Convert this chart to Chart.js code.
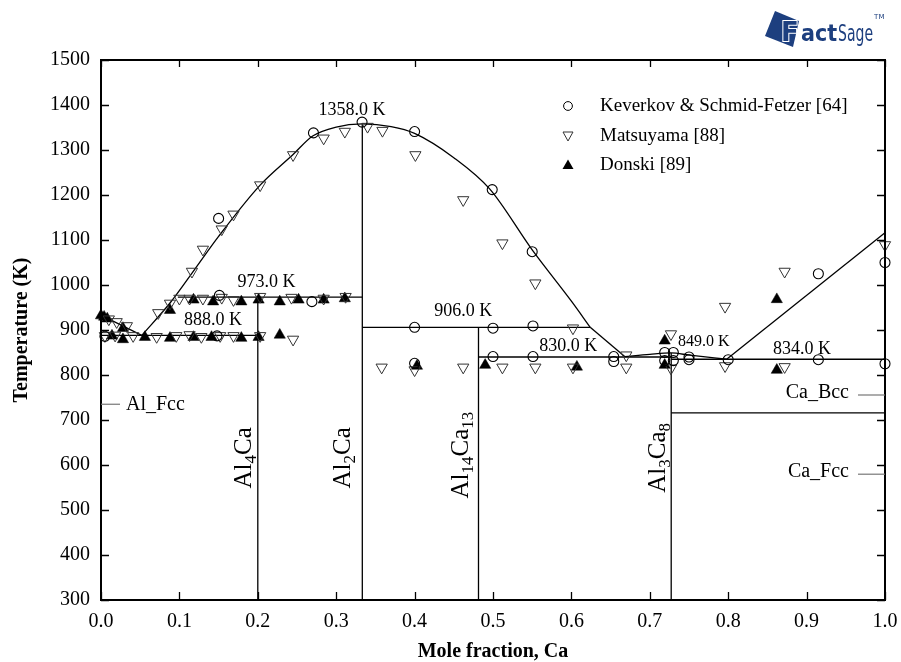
<!DOCTYPE html>
<html>
<head>
<meta charset="utf-8">
<title>Al-Ca phase diagram</title>
<script src="https://cdn.jsdelivr.net/npm/chart.js@4.4.1/dist/chart.umd.min.js"></script>
<style>
    html, body { margin: 0; padding: 0; background: #fff; }
    canvas { display: block; }
</style>
</head>
<body>
<canvas id="phaseChart" width="901" height="662"></canvas>
<script>
// ================= DATA =================
const xTickValues = [0, 0.1, 0.2, 0.3, 0.4, 0.5, 0.6, 0.7, 0.8, 0.9, 1.0];
const xTickLabels = ['0.0', '0.1', '0.2', '0.3', '0.4', '0.5', '0.6', '0.7', '0.8', '0.9', '1.0'];
const yTickValues = [300, 400, 500, 600, 700, 800, 900, 1000, 1100, 1200, 1300, 1400, 1500];
const yTickLabels = ['300', '400', '500', '600', '700', '800', '900', '1000', '1100', '1200', '1300', '1400', '1500'];

// Keverkov & Schmid-Fetzer [64]
const kevX = [0.005, 0.148, 0.150, 0.151, 0.269, 0.271, 0.333, 0.400, 0.499, 0.550,
              0.400, 0.500, 0.551, 0.400, 0.500, 0.551, 0.654, 0.654, 0.719, 0.730,
              0.719, 0.730, 0.750, 0.750, 0.800, 0.915, 0.915, 1.000, 1.000];
const kevT = [886, 887, 1148, 977, 963, 1338, 1362, 1341, 1212, 1074,
              906, 904, 909, 826, 841, 841, 841, 830, 850, 850,
              832, 832, 840, 834, 834, 1025, 834, 1050, 825];

// Matsuyama [88]
const matX = [0.088, 0.116, 0.130, 0.154, 0.169, 0.203, 0.245, 0.284, 0.311, 0.340,
              0.359, 0.401, 0.462, 0.512, 0.554, 0.602,
              0.358, 0.400, 0.462, 0.512, 0.554, 0.602, 0.670,
              0.670, 0.727, 0.727, 0.796, 0.796, 0.872, 0.872, 1.000,
              0.073, 0.100, 0.113, 0.130, 0.154, 0.169, 0.203, 0.243, 0.284, 0.312,
              0.005, 0.018, 0.020, 0.033, 0.041, 0.071, 0.096, 0.113, 0.128, 0.152,
              0.169, 0.203, 0.245, 0.010];
const matT = [959, 1030, 1079, 1124, 1157, 1222, 1289, 1326, 1341, 1352,
              1343, 1289, 1189, 1093, 1004, 904,
              817, 811, 817, 817, 817, 817, 817,
              844, 891, 815, 952, 820, 1030, 818, 1089,
              938, 970, 970, 970, 972, 967, 974, 972, 970, 974,
              887, 888, 918, 909, 887, 885, 887, 889, 885, 887,
              887, 887, 879, 924];

// Donski [89]
const donX = [0.000, 0.004, 0.008, 0.014, 0.028, 0.028, 0.056, 0.088, 0.088, 0.118,
              0.141, 0.179, 0.201, 0.228, 0.118, 0.143, 0.179, 0.201, 0.228, 0.252,
              0.284, 0.311, 0.403, 0.490, 0.607, 0.719, 0.719, 0.862, 0.862];
const donT = [932, 929, 925, 887, 904, 879, 884, 882, 944, 884,
              884, 882, 884, 889, 967, 963, 963, 967, 963, 967,
              967, 970, 820, 822, 818, 876, 822, 968, 811];

// phase boundaries [x, T]
const liqAlSide = [[0, 933], [0.052, 888]];
const liqDome = [[0.052, 888], [0.088, 960], [0.120, 1036], [0.150, 1108], [0.203, 1222],
                 [0.245, 1290], [0.270, 1331], [0.300, 1351], [0.333, 1358], [0.370, 1352],
                 [0.400, 1337], [0.450, 1283], [0.496, 1213], [0.550, 1078], [0.600, 964],
                 [0.624, 906]];
const liqMid = [[0.624, 906], [0.668, 841]];
const liqAl3Ca8 = [[0.668, 841], [0.700, 846], [0.727, 849], [0.751, 844], [0.798, 835]];
const liqCaSide = [[0.798, 835], [1.0, 1116]];
const line888 = [[0, 888], [0.2, 888]];
const line973 = [[0.098, 973], [0.3333, 973]];
const line906 = [[0.3333, 906], [0.624, 906]];
const line830 = [[0.4815, 840], [0.7273, 840]];
const line834 = [[0.7273, 835], [1.0, 835]];
const lineBccFcc = [[0.7273, 716], [1.0, 716]];
const vAl4Ca = [[0.2, 300], [0.2, 973]];
const vAl2Ca = [[0.3333, 300], [0.3333, 1358]];
const vAl14Ca13 = [[0.4815, 300], [0.4815, 906]];
const vAl3Ca8 = [[0.7273, 300], [0.7273, 849]];

// text annotations (data coordinates)
const tempLabels = [
    { text: '1358.0 K', x: 0.320, t: 1389, size: 18 },
    { text: '973.0 K', x: 0.211, t: 1007, size: 18 },
    { text: '888.0 K', x: 0.143, t: 922, size: 18 },
    { text: '906.0 K', x: 0.462, t: 942, size: 18 },
    { text: '830.0 K', x: 0.596, t: 863, size: 18 },
    { text: '849.0 K', x: 0.769, t: 874, size: 16 },
    { text: '834.0 K', x: 0.894, t: 857, size: 18 }
];
const compoundLabels = [
    { parts: [['Al', 0], ['4', 1], ['Ca', 0]], x: 0.181, t: 616 },
    { parts: [['Al', 0], ['2', 1], ['Ca', 0]], x: 0.307, t: 616 },
    { parts: [['Al', 0], ['14', 1], ['Ca', 0], ['13', 1]], x: 0.458, t: 622 },
    { parts: [['Al', 0], ['3', 1], ['Ca', 0], ['8', 1]], x: 0.709, t: 616 }
];
const phaseLabels = [
    { text: 'Al_Fcc', t: 735, side: 'left' },
    { text: 'Ca_Bcc', t: 760, side: 'right' },
    { text: 'Ca_Fcc', t: 584, side: 'right' }
];

const SERIF = '"Liberation Serif", "Times New Roman", serif';

// ================= HELPERS =================
function toPoints(xs, ts) {
    return xs.map((x, i) => ({ x: x, y: ts[i] }));
}

function lineSet(pairs, smooth) {
    return {
        data: pairs.map(p => ({ x: p[0], y: p[1] })),
        showLine: true,
        borderColor: '#000',
        borderWidth: 1.3,
        pointRadius: 0,
        pointHoverRadius: 0,
        fill: false,
        tension: smooth ? 0.4 : 0,
        cubicInterpolationMode: smooth ? 'monotone' : 'default',
        clip: false,
        order: 10
    };
}

// ================= PLUGIN =================
const decorPlugin = {
    id: 'decor',
    afterDraw(chart) {
        const ctx = chart.ctx;
        const area = chart.chartArea;
        const xs = chart.scales.x;
        const ys = chart.scales.y;

        ctx.save();
        ctx.strokeStyle = '#000';

        // inward ticks
        ctx.lineWidth = 1.3;
        yTickValues.forEach(v => {
            const py = Math.round(ys.getPixelForValue(v)) + 0.5;
            ctx.beginPath();
            ctx.moveTo(area.left, py); ctx.lineTo(area.left + 8, py);
            ctx.moveTo(area.right, py); ctx.lineTo(area.right - 8, py);
            ctx.stroke();
        });
        xTickValues.forEach(v => {
            const px = Math.round(xs.getPixelForValue(v)) + 0.5;
            ctx.beginPath();
            ctx.moveTo(px, area.bottom); ctx.lineTo(px, area.bottom - 8);
            ctx.moveTo(px, area.top); ctx.lineTo(px, area.top + 7);
            ctx.stroke();
        });

        // frame
        ctx.lineWidth = 2;
        ctx.strokeRect(area.left, area.top, area.right - area.left, area.bottom - area.top);

        // temperature labels
        ctx.fillStyle = '#000';
        ctx.textAlign = 'center';
        ctx.textBaseline = 'middle';
        tempLabels.forEach(l => {
            ctx.font = l.size + 'px ' + SERIF;
            ctx.fillText(l.text, xs.getPixelForValue(l.x), ys.getPixelForValue(l.t));
        });

        // compound labels, rotated with subscripts
        compoundLabels.forEach(l => {
            const big = '25px ' + SERIF;
            const small = '17px ' + SERIF;
            let w = 0;
            l.parts.forEach(p => { ctx.font = p[1] ? small : big; w += ctx.measureText(p[0]).width; });
            ctx.save();
            ctx.translate(xs.getPixelForValue(l.x), ys.getPixelForValue(l.t));
            ctx.rotate(-Math.PI / 2);
            ctx.textAlign = 'left';
            ctx.textBaseline = 'alphabetic';
            let cx = -w / 2;
            l.parts.forEach(p => {
                ctx.font = p[1] ? small : big;
                ctx.fillText(p[0], cx, p[1] ? 13 : 8);
                cx += ctx.measureText(p[0]).width;
            });
            ctx.restore();
        });

        // phase labels with leader lines
        ctx.font = '20px ' + SERIF;
        ctx.textBaseline = 'middle';
        phaseLabels.forEach(l => {
            const py = ys.getPixelForValue(l.t);
            ctx.strokeStyle = '#777';
            ctx.lineWidth = 1.2;
            ctx.beginPath();
            if (l.side === 'left') {
                ctx.moveTo(area.left, py); ctx.lineTo(area.left + 19, py);
                ctx.stroke();
                ctx.textAlign = 'left';
                ctx.fillText(l.text, area.left + 25, py);
            } else {
                ctx.moveTo(area.right - 27, py + 2); ctx.lineTo(area.right, py + 2);
                ctx.stroke();
                ctx.textAlign = 'right';
                ctx.fillText(l.text, area.right - 36, py);
            }
        });

        // legend
        const legendItems = [
            { text: 'Keverkov & Schmid-Fetzer [64]', style: 'circle', y: 106 },
            { text: 'Matsuyama [88]', style: 'down', y: 136 },
            { text: 'Donski [89]', style: 'up', y: 165 }
        ];
        ctx.font = '19px ' + SERIF;
        ctx.textAlign = 'left';
        legendItems.forEach(it => {
            const mx = 568;
            ctx.lineWidth = 1;
            ctx.strokeStyle = '#000';
            ctx.beginPath();
            if (it.style === 'circle') {
                ctx.arc(mx, it.y, 4.4, 0, Math.PI * 2);
                ctx.stroke();
            } else if (it.style === 'down') {
                ctx.moveTo(mx - 5, it.y - 4); ctx.lineTo(mx + 5, it.y - 4); ctx.lineTo(mx, it.y + 5);
                ctx.closePath();
                ctx.strokeStyle = '#333';
                ctx.stroke();
            } else {
                ctx.moveTo(mx - 5.5, it.y + 4); ctx.lineTo(mx + 5.5, it.y + 4); ctx.lineTo(mx, it.y - 5.5);
                ctx.closePath();
                ctx.fillStyle = '#000';
                ctx.fill();
            }
            ctx.fillStyle = '#000';
            ctx.fillText(it.text, 600, it.y);
        });

        // FactSage logo
        const blue = '#1d3f7f';
        ctx.fillStyle = blue;
        ctx.beginPath();
        ctx.moveTo(775, 11); ctx.lineTo(799, 21); ctx.lineTo(793, 47); ctx.lineTo(765, 36);
        ctx.closePath();
        ctx.fill();
        ctx.textAlign = 'left';
        ctx.textBaseline = 'alphabetic';
        ctx.font = 'bold 26px "DejaVu Sans", sans-serif';
        ctx.lineWidth = 2;
        ctx.strokeStyle = '#fff';
        ctx.strokeText('F', 781, 41);
        ctx.fillStyle = blue;
        ctx.fillText('F', 781, 41);
        ctx.font = 'bold 23px "DejaVu Sans Condensed", "DejaVu Sans", sans-serif';
        ctx.fillText('act', 801, 41);
        const actEnd = 801 + ctx.measureText('act').width;
        ctx.font = '23px "Liberation Sans Narrow", "DejaVu Sans Condensed", sans-serif';
        const sageW = ctx.measureText('Sage').width;
        ctx.save();
        ctx.translate(actEnd + 1, 41);
        ctx.scale(35 / sageW, 1);
        ctx.fillText('Sage', 0, 0);
        ctx.restore();
        ctx.font = '7px "DejaVu Sans", sans-serif';
        ctx.fillText('TM', actEnd + 37, 19);

        ctx.restore();
    }
};

// ================= CHART =================
let phaseChart;
function initChart() {
    const ctx = document.getElementById('phaseChart');
    if (!ctx) return;

    phaseChart = new Chart(ctx, {
        type: 'scatter',
        data: {
            datasets: [
                {
                    label: 'Keverkov & Schmid-Fetzer [64]',
                    data: toPoints(kevX, kevT),
                    pointStyle: 'circle',
                    pointRadius: 5,
                    pointBorderWidth: 1.1,
                    pointBorderColor: '#000',
                    pointBackgroundColor: 'rgba(0,0,0,0)',
                    clip: false,
                    order: 1
                },
                {
                    label: 'Matsuyama [88]',
                    data: toPoints(matX, matT),
                    pointStyle: 'triangle',
                    pointRotation: 180,
                    pointRadius: 6.5,
                    pointBorderWidth: 1,
                    pointBorderColor: '#333',
                    pointBackgroundColor: 'rgba(0,0,0,0)',
                    clip: false,
                    order: 2
                },
                {
                    label: 'Donski [89]',
                    data: toPoints(donX, donT),
                    pointStyle: 'triangle',
                    pointRadius: 6.5,
                    pointBorderWidth: 0.5,
                    pointBorderColor: '#000',
                    pointBackgroundColor: '#000',
                    clip: false,
                    order: 3
                },
                lineSet(liqAlSide, false),
                lineSet(liqDome, true),
                lineSet(liqMid, false),
                lineSet(liqAl3Ca8, true),
                lineSet(liqCaSide, false),
                lineSet(line888, false),
                lineSet(line973, false),
                lineSet(line906, false),
                lineSet(line830, false),
                lineSet(line834, false),
                lineSet(lineBccFcc, false),
                lineSet(vAl4Ca, false),
                lineSet(vAl2Ca, false),
                lineSet(vAl14Ca13, false),
                lineSet(vAl3Ca8, false)
            ]
        },
        options: {
            responsive: false,
            animation: false,
            devicePixelRatio: 1,
            layout: { padding: { top: 60, right: 16, left: 0, bottom: 0 }, autoPadding: false },
            plugins: {
                legend: { display: false },
                tooltip: { enabled: false }
            },
            scales: {
                x: {
                    type: 'linear',
                    min: 0,
                    max: 1,
                    afterFit: s => { s.height = 62; s.paddingLeft = 0; s.paddingRight = 0; },
                    afterBuildTicks: s => { s.ticks = xTickValues.map(v => ({ value: v })); },
                    grid: { display: false, drawTicks: false },
                    border: { display: false },
                    ticks: {
                        autoSkip: false,
                        maxRotation: 0,
                        padding: 10,
                        color: '#000',
                        font: { family: SERIF, size: 20 },
                        callback: (v, i) => xTickLabels[i]
                    },
                    title: {
                        display: true,
                        text: 'Mole fraction, Ca',
                        color: '#000',
                        padding: 0,
                        font: { family: SERIF, size: 20, weight: 'bold', lineHeight: 1 }
                    }
                },
                y: {
                    type: 'linear',
                    min: 300,
                    max: 1500,
                    afterFit: s => { s.width = 101; s.paddingTop = 0; s.paddingBottom = 0; },
                    afterBuildTicks: s => { s.ticks = yTickValues.map(v => ({ value: v })); },
                    grid: { display: false, drawTicks: false },
                    border: { display: false },
                    ticks: {
                        autoSkip: false,
                        padding: 11,
                        color: '#000',
                        font: { family: SERIF, size: 20 },
                        callback: (v, i) => yTickLabels[i]
                    },
                    title: {
                        display: true,
                        text: 'Temperature (K)',
                        color: '#000',
                        padding: { top: 12, bottom: 0 },
                        font: { family: SERIF, size: 20, weight: 'bold', lineHeight: 1 }
                    }
                }
            }
        },
        plugins: [decorPlugin]
    });
}

initChart();
</script>
</body>
</html>
